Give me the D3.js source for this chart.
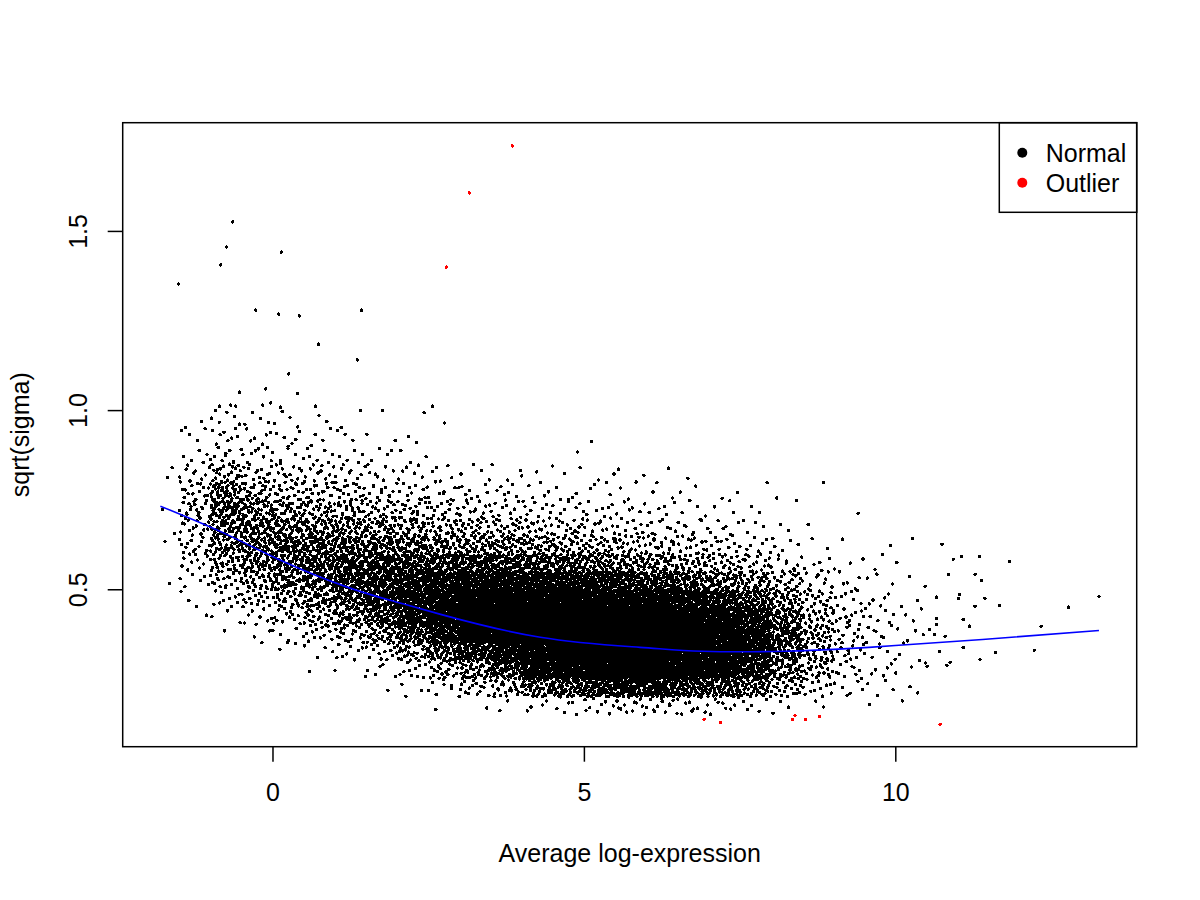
<!DOCTYPE html>
<html>
<head>
<meta charset="utf-8">
<script src="https://cdn.jsdelivr.net/npm/d3@7"></script>
<style>
  body { margin: 0; background: #ffffff; }
  svg { display: block; }
  text { font-family: "Liberation Sans", Arial, Helvetica, sans-serif; }
</style>
</head>
<body>
<svg id="chart" width="1200" height="900"></svg>
<script>
// ---------------- DATA ----------------
// Dense cloud of "Normal" genes as a 2-D histogram: counts per cell.
// x bins (Average log-expression) and y bins (sqrt(sigma)) edges:
const xBinEdges = [-1.8,-1.5,-1,-0.5,0,0.5,1,1.5,2,2.5,3,3.5,4,4.5,5,5.5,6,6.5,7,7.5,8,8.5,9,9.5,10,10.5];
const yBinEdges = [0.15,0.20,0.25,0.30,0.35,0.40,0.45,0.50,0.55,0.60,0.65,0.70,0.75,0.80,0.85,0.90,0.95,1.00];
// one row per x bin; 17 counts per row for y bins 0.15-0.20 ... 0.95-1.00
const binCounts = [
  [0,0,0,0,0,0,0,1,0,1,1,1,0,2,0,0,0],
  [0,0,0,0,0,1,3,6,10,14,16,18,15,9,5,4,2],
  [0,0,0,0,1,3,10,20,30,40,45,55,45,22,10,8,6],
  [0,0,0,0,3,8,18,30,42,50,48,38,25,15,8,6,4],
  [0,0,0,2,6,14,28,45,58,58,45,32,20,12,7,5,4],
  [0,0,1,4,12,24,42,60,65,55,40,28,18,10,6,4,2],
  [0,0,2,8,20,40,62,75,70,55,38,25,16,9,5,3,2],
  [0,1,5,14,35,62,85,85,70,50,32,20,12,7,4,2,1],
  [0,3,10,30,65,100,115,100,75,50,30,18,10,6,3,2,1],
  [1,8,22,50,100,135,130,105,70,42,25,14,8,5,0,0,0],
  [1,15,38,85,150,170,150,110,70,40,22,12,7,4,0,0,0],
  [2,25,60,120,190,200,165,115,70,38,20,11,6,3,0,0,0],
  [4,45,105,170,220,215,170,110,62,32,17,9,5,3,0,0,0],
  [6,60,125,195,240,220,165,100,55,28,15,8,4,2,0,0,0],
  [9,80,150,215,250,215,150,90,48,24,12,7,4,2,0,0,0],
  [12,90,160,220,245,200,135,80,42,20,10,6,3,2,0,0,0],
  [12,88,155,205,225,180,120,70,35,17,9,5,3,1,0,0,0],
  [10,78,140,180,195,155,100,58,28,14,8,4,2,1,0,0,0],
  [8,62,115,145,155,125,82,45,22,11,6,3,2,0,0,0,0],
  [5,45,85,115,120,95,62,34,16,8,4,2,1,0,0,0,0],
  [3,24,42,62,65,55,36,19,10,5,2,1,1,0,0,0,0],
  [2,12,24,30,30,26,18,10,5,2,1,0,1,0,0,0,0],
  [0,6,10,12,12,12,8,5,3,1,0,1,0,0,0,0,0],
  [1,4,5,6,7,6,5,3,2,1,0,0,0,0,0,0,0],
  [1,2,3,3,4,3,2,2,1,1,0,0,0,0,0,0,0]
];

// Individually read "Normal" points outside the histogram (high sigma, right tail)
const normalX = [-0.64,-0.74,-0.83,0.14,-1.51,-0.27,0.10,0.43,1.43,0.74,1.36,0.26,-0.11,0.40,-0.53,
                 -0.85,-0.67,-0.59,-0.16,-0.03,0.13,0.69,2.57,2.76,5.12,4.90,
                 10.75,10.93,11.06,11.35,11.83,10.85,11.28,11.38,10.66,11.03,11.01,11.44,11.28,11.67,
                 12.78,13.27,10.66,10.66,11.09,11.19,12.34,10.55,10.63,10.80,11.09,10.71,11.61,12.23,
                 11.36,10.88,10.83,10.51];
const normalY = [1.525,1.455,1.405,1.441,1.352,1.279,1.268,1.263,1.279,1.184,1.140,1.101,1.059,1.047,1.050,
                 1.011,1.014,1.011,1.014,1.020,1.008,1.011,1.011,0.964,0.913,0.883,
                 0.626,0.584,0.592,0.592,0.578,0.542,0.542,0.525,0.478,0.486,0.475,0.475,0.453,0.455,
                 0.450,0.480,0.419,0.402,0.416,0.397,0.397,0.388,0.374,0.369,0.338,0.327,0.324,0.330,
                 0.304,0.296,0.288,0.285];

// Outliers (red)
const outlierX = [3.85,3.16,2.79,6.93,7.19,8.35,8.39,8.56,8.78,10.72];
const outlierY = [1.737,1.606,1.399,0.137,0.128,0.137,0.148,0.137,0.145,0.123];

// Trend line (blue)
const trendX = [-1.80,-0.77,0.13,1.20,2.00,2.70,4.30,5.90,6.90,8.20,9.30,10.00,11.40,13.27];
const trendY = [0.732,0.656,0.581,0.506,0.464,0.430,0.366,0.338,0.327,0.327,0.335,0.343,0.360,0.385];

const xTicks = [0, 5, 10];
const yTicks = [0.5, 1.0, 1.5];
const xTitle = "Average log-expression";
const yTitle = "sqrt(sigma)";
const legendLabels = ["Normal", "Outlier"];
const legendColors = ["#000000", "#ff0000"];

// ---------------- LAYOUT ----------------
const plotLeft = 122.7, plotRight = 1136.7, plotTop = 122.7, plotBottom = 746.7;
const x = d3.scaleLinear().domain([-2.405, 13.876]).range([plotLeft, plotRight]);
const y = d3.scaleLinear().domain([0.0607, 1.802]).range([plotBottom, plotTop]);
const svg = d3.select("#chart");
const FONT = 25;
const DOT_R = 1.75;

// deterministic in-cell placement (low-discrepancy sequence)
function halton(i, b) { let f = 1, r = 0; while (i > 0) { f /= b; r += f * (i % b); i = Math.floor(i / b); } return r; }

const cloud = [];
let g = 1;
binCounts.forEach((row, i) => {
  const x0 = xBinEdges[i], x1 = xBinEdges[i + 1];
  row.forEach((n, j) => {
    const y0 = yBinEdges[j], y1 = yBinEdges[j + 1];
    for (let k = 0; k < n; k++, g++) {
      cloud.push([x0 + halton(g, 2) * (x1 - x0), y0 + halton(g, 3) * (y1 - y0)]);
    }
  });
});
normalX.forEach((v, i) => cloud.push([v, normalY[i]]));

const ptsG = svg.append("g").attr("shape-rendering", "crispEdges");
ptsG.selectAll("circle.n").data(cloud).join("circle")
  .attr("class", "n")
  .attr("cx", d => x(d[0])).attr("cy", d => y(d[1])).attr("r", DOT_R)
  .attr("fill", legendColors[0]);
ptsG.selectAll("circle.o").data(outlierX.map((v, i) => [v, outlierY[i]])).join("circle")
  .attr("class", "o")
  .attr("cx", d => x(d[0])).attr("cy", d => y(d[1])).attr("r", DOT_R)
  .attr("fill", legendColors[1]);

// trend line
const line = d3.line().x(d => x(d[0])).y(d => y(d[1])).curve(d3.curveNatural);
svg.append("path")
  .datum(trendX.map((v, i) => [v, trendY[i]]))
  .attr("d", line)
  .attr("fill", "none").attr("stroke", "#0000ff").attr("stroke-width", 1.6);

// box
svg.append("rect")
  .attr("x", plotLeft).attr("y", plotTop)
  .attr("width", plotRight - plotLeft).attr("height", plotBottom - plotTop)
  .attr("fill", "none").attr("stroke", "#000").attr("stroke-width", 1.5);

// x axis
const xAxisG = svg.append("g").attr("transform", `translate(0,${plotBottom})`)
  .call(d3.axisBottom(x).tickValues(xTicks).tickFormat(d3.format("d")).tickSize(15).tickPadding(21.5));
xAxisG.select(".domain").remove();
xAxisG.selectAll(".tick line").attr("stroke", "#000").attr("stroke-width", 1.5);
xAxisG.selectAll(".tick text").attr("font-size", FONT).attr("fill", "#000")
  .attr("font-family", '"Liberation Sans", Arial, sans-serif');

// y axis
const yAxisG = svg.append("g").attr("transform", `translate(${plotLeft},0)`)
  .call(d3.axisLeft(y).tickValues(yTicks).tickFormat(d3.format(".1f")).tickSize(15));
yAxisG.select(".domain").remove();
yAxisG.selectAll(".tick line").attr("stroke", "#000").attr("stroke-width", 1.5);
yAxisG.selectAll(".tick text")
  .attr("x", null).attr("dy", null)
  .attr("text-anchor", "middle")
  .attr("transform", "translate(-35.4,0) rotate(-90)")
  .attr("font-size", FONT).attr("fill", "#000")
  .attr("font-family", '"Liberation Sans", Arial, sans-serif');

// titles
svg.append("text").attr("x", (plotLeft + plotRight) / 2).attr("y", 862)
  .attr("text-anchor", "middle").attr("font-size", FONT).attr("fill", "#000").text(xTitle);
svg.append("text").attr("transform", `translate(29,${(plotTop + plotBottom) / 2}) rotate(-90)`)
  .attr("text-anchor", "middle").attr("font-size", FONT).attr("fill", "#000").text(yTitle);

// legend
const legend = svg.append("g");
legend.append("rect").attr("x", 999.3).attr("y", plotTop)
  .attr("width", plotRight - 999.3).attr("height", 212.3 - plotTop)
  .attr("fill", "none").attr("stroke", "#000").attr("stroke-width", 1.5);
legendLabels.forEach((lab, i) => {
  legend.append("circle").attr("cx", 1022.3).attr("cy", 152.7 + 30 * i).attr("r", 5)
    .attr("fill", legendColors[i]);
  legend.append("text").attr("x", 1045.7).attr("y", 161.7 + 30 * i)
    .attr("font-size", FONT).attr("fill", "#000").text(lab);
});
</script>
</body>
</html>
